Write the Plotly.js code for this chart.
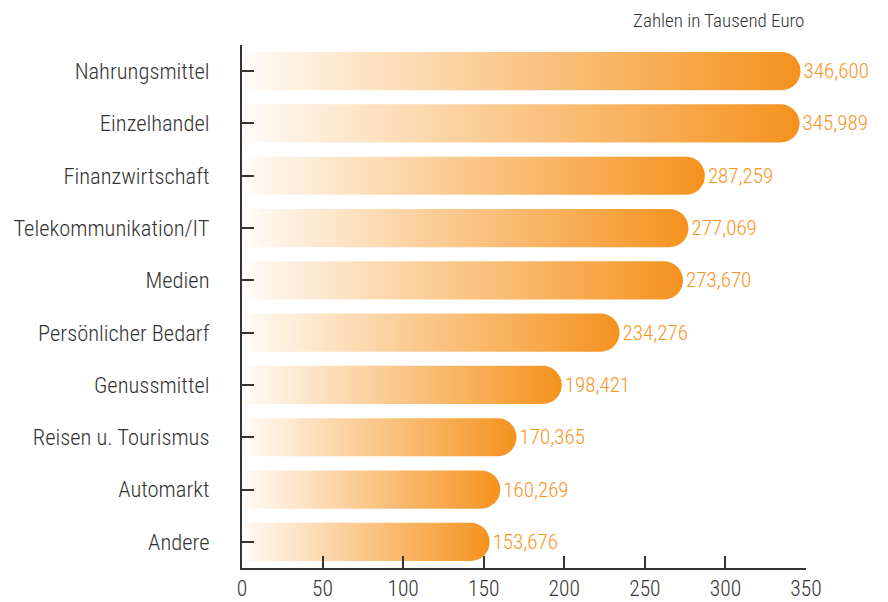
<!DOCTYPE html>
<html>
<head>
<meta charset="utf-8">
<script src="https://cdn.plot.ly/plotly-3.0.1.min.js"></script>
<style>html,body{margin:0;padding:0;background:#fff;}#chart{width:888px;height:602px;}</style>
</head>
<body>
<div id="chart"></div>
<script>
var categories = ["Nahrungsmittel","Einzelhandel","Finanzwirtschaft","Telekommunikation/IT","Medien","Persönlicher Bedarf","Genussmittel","Reisen u. Tourismus","Automarkt","Andere"];
var values = [346.600, 345.989, 287.259, 277.069, 273.670, 234.276, 198.421, 170.365, 160.269, 153.676];
var xTicks = [0, 50, 100, 150, 200, 250, 300, 350];
var unitNote = "Zahlen in Tausend Euro";

var labels = values.map(function(v){ return v.toFixed(3).replace('.', ','); });
var FONT = "'Roboto Condensed', 'Liberation Sans Narrow', 'DejaVu Sans Condensed', 'Arial Narrow', sans-serif";
var ORANGE = "#F5921E";

var trace = {
  type: 'bar',
  orientation: 'h',
  x: values,
  y: categories,
  text: labels,
  textposition: 'outside',
  cliponaxis: false,
  textfont: {family: FONT, size: 21, weight: 300, color: "#F7941D"},
  width: 0.73,
  marker: {color: ORANGE, cornerradius: "50%", line: {width: 0}},
  hoverinfo: 'none'
};

var layout = {
  width: 888, height: 602,
  margin: {l: 242, r: 82, t: 45, b: 34},
  paper_bgcolor: '#fff', plot_bgcolor: '#fff',
  showlegend: false,
  font: {family: FONT, color: '#333', weight: 300},
  xaxis: {
    range: [0, 350], tickvals: xTicks, ticktext: xTicks.map(String),
    ticks: 'inside', ticklen: 12, tickwidth: 2, tickcolor: '#333',
    showline: true, linecolor: '#333', linewidth: 2,
    showgrid: false, zeroline: false,
    ticklabelstandoff: 0,
    tickfont: {family: FONT, size: 21.5, weight: 300, color: '#333'}
  },
  yaxis: {
    type: 'category', categoryorder: 'array', categoryarray: categories,
    range: [9.5, -0.5],
    ticks: 'inside', ticklen: 12, tickwidth: 2, tickcolor: '#333',
    showline: true, linecolor: '#333', linewidth: 2,
    showgrid: false, zeroline: false,
    ticklabelstandoff: 26,
    tickfont: {family: FONT, size: 22.5, weight: 300, color: '#333'}
  },
  annotations: [{
    text: unitNote, xref: 'paper', yref: 'paper', x: 1, y: 1,
    xanchor: 'right', yanchor: 'middle', yshift: 25, showarrow: false,
    font: {family: FONT, size: 19, weight: 300, color: '#333'}
  }]
};

Plotly.newPlot('chart', [trace], layout, {staticPlot: true, displayModeBar: false}).then(function(gd){
  var svg = gd.querySelector('svg.main-svg');
  var ns = 'http://www.w3.org/2000/svg';
  var defs = svg.querySelector('defs') || svg.insertBefore(document.createElementNS(ns, 'defs'), svg.firstChild);
  var g = document.createElementNS(ns, 'linearGradient');
  g.setAttribute('id', 'barGrad');
  g.setAttribute('x1', '0'); g.setAttribute('y1', '0');
  g.setAttribute('x2', '1'); g.setAttribute('y2', '0');
  [[0, '#FFFFFF'], [0.05, '#FFF6EC'], [0.45, '#FBCB92'], [1, ORANGE]].forEach(function(s){
    var st = document.createElementNS(ns, 'stop');
    st.setAttribute('offset', s[0]);
    st.setAttribute('stop-color', s[1]);
    g.appendChild(st);
  });
  defs.appendChild(g);
  gd.querySelectorAll('.bars .point path').forEach(function(p){
    p.style.fill = 'url(#barGrad)';
  });
});
</script>
</body>
</html>
